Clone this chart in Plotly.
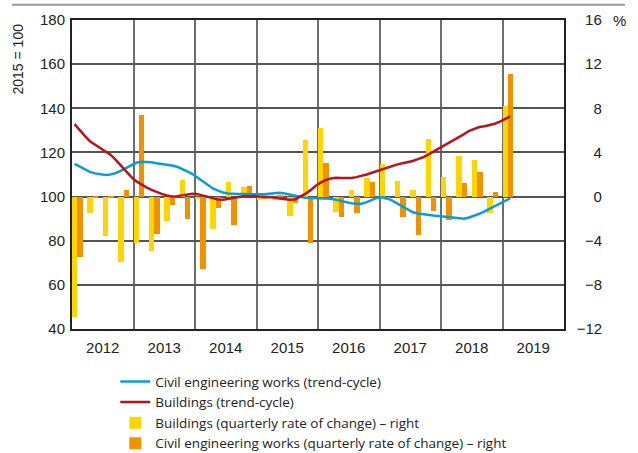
import pandas as pd
import plotly.graph_objects as go

# quarterly rates of change (right axis, %), 2012Q1 - 2019Q1
quarters = pd.period_range('2012Q1', '2019Q1', freq='Q')
buildings_qoq = [-10.9, -1.5, -3.55, -5.9,
                 -4.2, -4.9, -2.2, 1.5,
                 -0.2, -2.9, 1.35, 0.9,
                 -0.3, -0.3, -1.75, 5.15,
                 6.25, -1.4, 0.6, 1.65,
                 2.95, 1.4, 0.6, 5.2,
                 1.75, 3.7, 3.35, -1.5,
                 8.25]
civil_qoq = [-5.45, -0.1, -0.1, 0.6,
             7.35, -3.4, -0.75, -2.0,
             -6.6, -1.05, -2.6, 1.0,
             -0.2, 0.15, -0.6, -4.2,
             3.0, -1.85, -1.5, 1.3,
             -0.35, -1.85, -3.45, -1.35,
             -2.15, 1.2, 2.25, 0.45,
             11.1]

# monthly trend-cycle (left axis, 2015 = 100), Jan 2012 - Feb 2019
months = pd.date_range('2012-01-01', '2019-02-01', freq='MS')
buildings_trend = [132.8, 130, 127.5, 125, 123.5, 122, 120.8, 119, 116.7, 114, 111.5, 109,
                   107, 105.5, 104.2, 103, 102, 101.2, 100.5, 100, 100.2, 100.6, 101, 101.3,
                   101.1, 100.5, 100, 99.2, 98.7, 98.6, 98.9, 99.3, 99.8, 100.2, 100.3, 100.2,
                   100, 99.8, 99.9, 99.6, 99.1, 98.8, 98.6, 98.7, 99.8, 101.2, 102.8, 104.8,
                   106.3, 107.5, 108.2, 108.5, 108.4, 108.3, 108.4, 108.8, 109.3, 110, 110.8, 111.6,
                   112.2, 113, 113.9, 114.6, 115.1, 115.6, 116.1, 117, 117.8, 119, 120.3, 121.6,
                   123, 124.3, 125.5, 126.8, 128.3, 129.8, 130.8, 131.5, 131.9, 132.3, 133, 134,
                   135.2, 136.3]
civil_trend = [114.8, 113.5, 112.3, 111.2, 110.5, 110, 109.8, 110, 110.6, 111.6, 112.8, 114.2,
               115.3, 115.8, 115.8, 115.5, 115.1, 114.8, 114.5, 114.1, 113.5, 112.6, 111.4, 110.2,
               108.5, 106.7, 105, 103.7, 102.7, 101.8, 101.4, 101.2, 101.2, 101.2, 101.1, 101,
               100.9, 101, 101.3, 101.6, 101.7, 101.4, 100.9, 100.2, 99.8, 99.5, 99.3, 99.2,
               99, 99, 99, 98.5, 97.9, 97.3, 97, 96.8, 96.8, 97.5, 98.6, 99.4,
               99.7, 99.2, 98.2, 96.8, 95.4, 94, 92.9, 92.3, 91.9, 91.6, 91.4, 91.2,
               91, 90.6, 90.3, 90.1, 90, 90.5, 91.3, 92.2, 93.3, 94.5, 95.7, 97,
               98.2, 99.2]

years = list(range(2012, 2020))
right_ticks = [-12, -8, -4, 0, 4, 8, 12, 16]
right_text = ['\u221212', '\u2007\u22128', '\u2007\u22124', '\u2007\u20070',
              '\u2007\u20074', '\u2007\u20078', '\u200712', '\u200716']

FONT = 'Liberation Sans Narrow, Arial Narrow, Arial, sans-serif'
BLUE = '#0b9bd7'
RED = '#b7141c'
YELLOW = '#ffd500'
ORANGE = '#f29100'

q_pos = [p.year + (p.quarter - 1) / 4 for p in quarters]
m_pos = [d.year + (d.month - 0.5) / 12 for d in months]
bar_w = 0.088

fig = go.Figure()
fig.add_trace(go.Scatter(x=m_pos, y=civil_trend, yaxis='y2', mode='lines', line=dict(color=BLUE, width=2.5),
                         name='Civil engineering works (trend-cycle)'))
fig.add_trace(go.Scatter(x=m_pos, y=buildings_trend, yaxis='y2', mode='lines', line=dict(color=RED, width=2.5),
                         name='Buildings (trend-cycle)'))
fig.add_trace(go.Bar(x=q_pos, y=buildings_qoq, width=bar_w, offset=0, marker=dict(color=YELLOW, line_width=0),
                     name='Buildings (quarterly rate of change) \u2013 right'))
fig.add_trace(go.Bar(x=q_pos, y=civil_qoq, width=bar_w, offset=bar_w, marker=dict(color=ORANGE, line_width=0),
                     name='Civil engineering works (quarterly rate of change) \u2013 right'))

# figure is a bit taller than the window so the legend has room; the overflow is hidden
fig.update_layout(
    width=638, height=470,
    margin=dict(l=72, r=74, t=20, b=140),
    plot_bgcolor='white', paper_bgcolor='white',
    font=dict(family=FONT, size=15, color='#222'),
    barmode='overlay', bargap=0,
    showlegend=True,
    legend=dict(x=0.088, xanchor='left', y=-0.117, yanchor='top',
                traceorder='normal', font=dict(size=13.5, family='Open Sans, Arial, sans-serif'),
                tracegroupgap=0, itemwidth=30),
    xaxis=dict(range=[2012, 2020], tickvals=[y + 0.5 for y in years], ticktext=[str(y) for y in years],
               showgrid=False, ticks='', ticklabelstandoff=4,
               showline=True, linecolor='#222', linewidth=1.5, mirror=True,
               minor=dict(tick0=2012, dtick=1, showgrid=True, gridcolor='#6e6e6e', gridwidth=1.5),
               fixedrange=True),
    yaxis=dict(side='right', range=[-12, 16], tickvals=right_ticks, ticktext=right_text,
               showgrid=True, gridcolor='#555', gridwidth=1.5, zeroline=False,
               showline=True, linecolor='#222', linewidth=1.5, mirror=True, ticks='', ticklabelstandoff=8),
    yaxis2=dict(side='left', overlaying='y', range=[40, 180], dtick=20, showgrid=False, zeroline=False,
                ticks='', ticklabelstandoff=6),
    shapes=[dict(type='line', xref='paper', yref='paper', x0=-0.122, x1=1.124, y0=1.049, y1=1.049,
                 line=dict(color='#999', width=2))],
    annotations=[
        dict(text='%', xref='paper', yref='paper', x=1.095, y=1.0, xanchor='left', yanchor='middle',
             showarrow=False, font=dict(size=15)),
        dict(text='2015 = 100', xref='paper', yref='paper', x=-0.11, y=0.875, textangle=-90,
             xanchor='center', yanchor='middle', showarrow=False, font=dict(size=14)),
    ],
)

fig.write_html('out.html', config={'displayModeBar': False},
               post_script="document.body.style.margin='0';document.body.style.overflow='hidden';")
